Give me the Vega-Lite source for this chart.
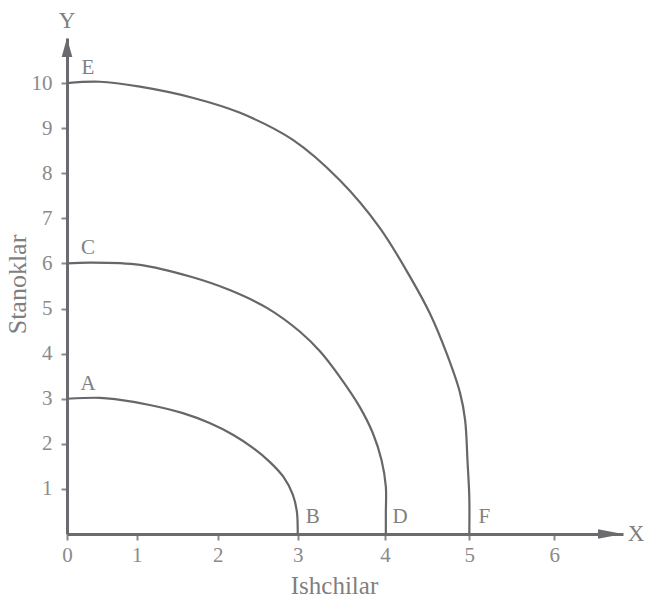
{
  "$schema": "https://vega.github.io/schema/vega-lite/v6.json",
  "width": 556,
  "height": 496,
  "autosize": {"type": "none"},
  "padding": {"left": 67, "top": 38, "right": 23, "bottom": 64},
  "background": "white",
  "config": {"view": {"stroke": null}, "font": "Liberation Serif"},
  "datasets": {
    "curves": [
      {"curve": "AB", "i": 0, "x": 0, "y": 3.0},
      {"curve": "AB", "i": 1, "x": 0.47, "y": 3.02},
      {"curve": "AB", "i": 2, "x": 0.69, "y": 2.99},
      {"curve": "AB", "i": 3, "x": 1.16, "y": 2.86},
      {"curve": "AB", "i": 4, "x": 1.57, "y": 2.68},
      {"curve": "AB", "i": 5, "x": 1.9, "y": 2.46},
      {"curve": "AB", "i": 6, "x": 2.19, "y": 2.2},
      {"curve": "AB", "i": 7, "x": 2.44, "y": 1.91},
      {"curve": "AB", "i": 8, "x": 2.65, "y": 1.6},
      {"curve": "AB", "i": 9, "x": 2.82, "y": 1.27},
      {"curve": "AB", "i": 10, "x": 2.94, "y": 0.87},
      {"curve": "AB", "i": 11, "x": 2.99, "y": 0.49},
      {"curve": "AB", "i": 12, "x": 3.0, "y": 0.13},
      {"curve": "AB", "i": 13, "x": 3.0, "y": 0},
      {"curve": "CD", "i": 0, "x": 0, "y": 6.0},
      {"curve": "CD", "i": 1, "x": 0.33, "y": 6.02},
      {"curve": "CD", "i": 2, "x": 1.04, "y": 5.97},
      {"curve": "CD", "i": 3, "x": 1.66, "y": 5.71},
      {"curve": "CD", "i": 4, "x": 2.15, "y": 5.41},
      {"curve": "CD", "i": 5, "x": 2.62, "y": 5.01},
      {"curve": "CD", "i": 6, "x": 3.03, "y": 4.48},
      {"curve": "CD", "i": 7, "x": 3.26, "y": 4.04},
      {"curve": "CD", "i": 8, "x": 3.48, "y": 3.49},
      {"curve": "CD", "i": 9, "x": 3.71, "y": 2.82},
      {"curve": "CD", "i": 10, "x": 3.86, "y": 2.24},
      {"curve": "CD", "i": 11, "x": 3.96, "y": 1.64},
      {"curve": "CD", "i": 12, "x": 4.01, "y": 1.05},
      {"curve": "CD", "i": 13, "x": 4.01, "y": 0.47},
      {"curve": "CD", "i": 14, "x": 4.01, "y": 0},
      {"curve": "EF", "i": 0, "x": 0, "y": 10.0},
      {"curve": "EF", "i": 1, "x": 0.47, "y": 10.03},
      {"curve": "EF", "i": 2, "x": 1.04, "y": 9.92},
      {"curve": "EF", "i": 3, "x": 1.7, "y": 9.67},
      {"curve": "EF", "i": 4, "x": 2.28, "y": 9.34},
      {"curve": "EF", "i": 5, "x": 2.94, "y": 8.74},
      {"curve": "EF", "i": 6, "x": 3.48, "y": 7.85},
      {"curve": "EF", "i": 7, "x": 3.94, "y": 6.79},
      {"curve": "EF", "i": 8, "x": 4.32, "y": 5.63},
      {"curve": "EF", "i": 9, "x": 4.53, "y": 4.9},
      {"curve": "EF", "i": 10, "x": 4.73, "y": 4.01},
      {"curve": "EF", "i": 11, "x": 4.89, "y": 3.13},
      {"curve": "EF", "i": 12, "x": 4.95, "y": 2.53},
      {"curve": "EF", "i": 13, "x": 4.98, "y": 1.57},
      {"curve": "EF", "i": 14, "x": 5.0, "y": 0.82},
      {"curve": "EF", "i": 15, "x": 5.0, "y": 0}
    ],
    "topLabels": [
      {"label": "A", "x": 0, "y": 3},
      {"label": "C", "x": 0, "y": 6},
      {"label": "E", "x": 0, "y": 10}
    ],
    "bottomLabels": [
      {"label": "B", "x": 3, "y": 0},
      {"label": "D", "x": 4, "y": 0},
      {"label": "F", "x": 5, "y": 0}
    ],
    "xEnd": [{"label": "X", "x": 6.8, "y": 0}],
    "yEnd": [{"label": "Y", "x": 0, "y": 11}]
  },
  "encoding": {
    "x": {
      "field": "x",
      "type": "quantitative",
      "scale": {
        "domain": [0, 1, 2, 3, 4, 5, 6, 6.8],
        "range": [0, 69.7, 150.7, 230.7, 318, 402.3, 487.3, 556],
        "nice": false,
        "zero": false
      },
      "axis": {
        "title": "Ishchilar",
        "values": [0, 1, 2, 3, 4, 5, 6],
        "grid": false,
        "domainColor": "#6b6b6f",
        "domainWidth": 3,
        "tickColor": "#8a8a8a",
        "tickSize": 6,
        "tickWidth": 2,
        "labelFont": "Liberation Serif",
        "labelFontSize": 21,
        "labelColor": "#8a8a8a",
        "labelPadding": 4,
        "labelFlush": false,
        "titleFont": "Liberation Serif",
        "titleFontSize": 25,
        "titleFontWeight": "normal",
        "titleColor": "#7f7f7f",
        "titleX": 267,
        "titleY": 51,
        "titleBaseline": "middle",
        "titleAlign": "center"
      }
    },
    "y": {
      "field": "y",
      "type": "quantitative",
      "scale": {"domain": [0, 11], "nice": false, "zero": false},
      "axis": {
        "title": "Stanoklar",
        "values": [1, 2, 3, 4, 5, 6, 7, 8, 9, 10],
        "grid": false,
        "domainColor": "#6b6b6f",
        "domainWidth": 3,
        "tickColor": "#8a8a8a",
        "tickSize": 6,
        "tickWidth": 2,
        "labelFont": "Liberation Serif",
        "labelFontSize": 21,
        "labelColor": "#8a8a8a",
        "labelPadding": 9,
        "labelFlush": false,
        "titleFont": "Liberation Serif",
        "titleFontSize": 26,
        "titleFontWeight": "normal",
        "titleColor": "#7f7f7f",
        "titleX": -50,
        "titleY": 246,
        "titleAngle": 270,
        "titleBaseline": "middle",
        "titleAlign": "center"
      }
    }
  },
  "layer": [
    {
      "data": {"name": "curves"},
      "mark": {"type": "line", "interpolate": "catmull-rom", "color": "#67676b", "strokeWidth": 2.2},
      "encoding": {
        "detail": {"field": "curve"},
        "order": {"field": "i", "type": "quantitative"}
      }
    },
    {
      "data": {"name": "topLabels"},
      "mark": {"type": "text", "dx": 21, "dy": -15, "fontSize": 21, "font": "Liberation Serif", "color": "#808080", "align": "center", "baseline": "middle"},
      "encoding": {"text": {"field": "label"}}
    },
    {
      "data": {"name": "bottomLabels"},
      "mark": {"type": "text", "dx": 15, "dy": -17, "fontSize": 21, "font": "Liberation Serif", "color": "#808080", "align": "center", "baseline": "middle"},
      "encoding": {"text": {"field": "label"}}
    },
    {
      "data": {"name": "xEnd"},
      "mark": {"type": "point", "shape": "M0,0L-1,-0.19L-1,0.19Z", "size": 2500, "filled": true, "color": "#6b6b6f", "opacity": 1, "strokeWidth": 0}
    },
    {
      "data": {"name": "yEnd"},
      "mark": {"type": "point", "shape": "M0,0L-0.28,1L0.28,1Z", "size": 1444, "filled": true, "color": "#6b6b6f", "opacity": 1, "strokeWidth": 0}
    },
    {
      "data": {"name": "xEnd"},
      "mark": {"type": "text", "dx": 13, "dy": 0, "fontSize": 23, "font": "Liberation Serif", "color": "#808080", "align": "center", "baseline": "middle"},
      "encoding": {"text": {"field": "label"}}
    },
    {
      "data": {"name": "yEnd"},
      "mark": {"type": "text", "dx": 0, "dy": -17, "fontSize": 23, "font": "Liberation Serif", "color": "#808080", "align": "center", "baseline": "middle"},
      "encoding": {"text": {"field": "label"}}
    }
  ]
}
